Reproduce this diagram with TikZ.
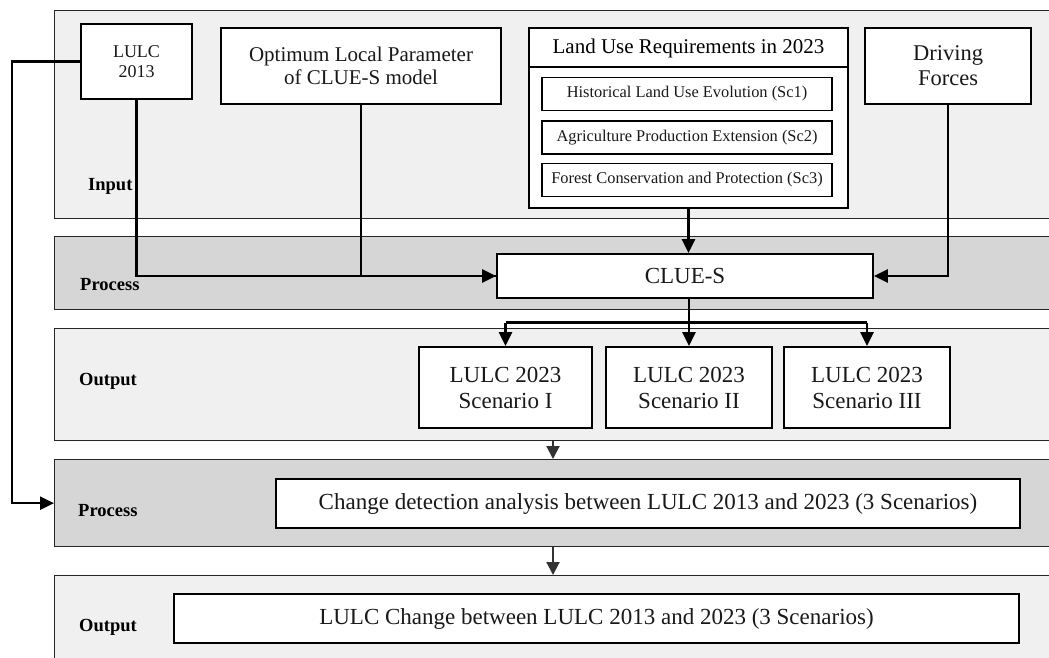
\documentclass[tikz,border=0pt]{standalone}
\usepackage{fontspec}
\setmainfont{Liberation Serif}
\usetikzlibrary{arrows.meta,calc}
\begin{document}
\begin{tikzpicture}[x=1pt,y=1pt,
  panel/.style={draw=black!85,line width=1.3pt,anchor=north west,inner sep=0pt},
  lightpanel/.style={panel,fill=black!6},
  darkpanel/.style={panel,fill=black!16},
  box/.style={draw=black,line width=1.8pt,fill=white,inner sep=0pt,align=center,text=black!90},
  tag/.style={anchor=west,inner sep=0pt,font=\bfseries\fontsize{18.5}{20}\selectfont},
  conn/.style={draw=black,line width=2.5pt},
  arr/.style={conn,-{Triangle[length=14pt,width=13pt]}},
  arrsoft/.style={draw=black!80,line width=2pt,-{Triangle[length=13pt,width=13pt]}},
  big/.style={font=\fontsize{23}{26}\selectfont},
  mid/.style={font=\fontsize{21}{23}\selectfont},
  small/.style={font=\fontsize{16.4}{18}\selectfont}
]
\clip (0,0) rectangle (1049,-657);
\fill[white] (0,0) rectangle (1049,-657);

% horizontal bands
\node[lightpanel,minimum width=1020pt,minimum height=208pt] (inpanel) at (54,-10) {};
\node[darkpanel,minimum width=1020pt,minimum height=73pt] (proc1) at (54,-236) {};
\node[lightpanel,minimum width=1020pt,minimum height=112pt] (out1) at (54,-328) {};
\node[darkpanel,minimum width=1020pt,minimum height=87pt] (proc2) at (54,-459) {};
\node[lightpanel,minimum width=1020pt,minimum height=110pt] (out2) at (54,-575) {};

% band labels
\node[tag] (tin) at (88,-186) {Input};
\node[tag] (tp1) at (80,-285) {Process};
\node[tag] (to1) at (79,-381) {Output};
\node[tag] (tp2) at (78,-511) {Process};
\node[tag] (to2) at (79,-627) {Output};

% inputs
\node[box,minimum width=111pt,minimum height=75pt,font=\fontsize{18}{20}\selectfont] (lulc13) at (136.5,-61.5) {LULC\\2013};
\node[box,mid,minimum width=280pt,minimum height=76pt] (opt) at (361,-66) {Optimum Local Parameter\\of CLUE-S model};
\node[box,minimum width=319pt,minimum height=180pt] (lur) at (688.5,-118) {};
\draw[line width=1.8pt] (lur.north west) ++(0,-40) -- ++(319,0);
\node[mid,inner sep=0pt] (lurt) at (688.5,-48) {Land Use Requirements in 2023};
\node[box,small,line width=1.6pt,minimum width=290pt,minimum height=33pt] (sc1) at (687,-94) {Historical Land Use Evolution (Sc1)};
\node[box,small,line width=1.6pt,minimum width=290pt,minimum height=33pt] (sc2) at (687,-137.5) {Agriculture Production Extension (Sc2)};
\node[box,small,line width=1.6pt,minimum width=290pt,minimum height=33pt] (sc3) at (687,-180) {Forest Conservation and Protection (Sc3)};
\node[box,font=\fontsize{22.5}{25}\selectfont,minimum width=166pt,minimum height=76pt] (drive) at (948,-66) {Driving\\Forces};

% model
\node[box,big,minimum width=376pt,minimum height=44pt] (clue) at (685,-276) {CLUE-S};

% scenario outputs
\node[box,big,minimum width=173pt,minimum height=81pt] (s1) at (505.5,-387.5) {LULC 2023\\Scenario I};
\node[box,big,minimum width=166pt,minimum height=81pt] (s2) at (689,-387.5) {LULC 2023\\Scenario II};
\node[box,big,minimum width=166pt,minimum height=81pt] (s3) at (867,-387.5) {LULC 2023\\Scenario III};

% change analysis
\node[box,big,minimum width=744pt,minimum height=49pt] (chg) at (648,-503.5) {Change detection analysis between LULC 2013 and 2023 (3 Scenarios)};
\node[box,big,minimum width=845pt,minimum height=49pt] (res) at (596.5,-618.5) {LULC Change between LULC 2013 and 2023 (3 Scenarios)};

% connectors into CLUE-S
\draw[conn] (lulc13.south) |- (clue.west);
\draw[arr] (opt.south) |- (clue.west);
\draw[arr] (lur.south) -- (lur.south |- clue.north);
\draw[arr] (drive.south) |- (clue.east);

% CLUE-S to the three scenarios
\coordinate (split) at ($(s2.north |- clue.south)!0.5!(s2.north)$);
\draw[arr] (s2.north |- clue.south) -- (s2.north);
\draw[conn] (split -| s1.north) -- (split -| s3.north);
\draw[arr] (split -| s1.north) -- (s1.north);
\draw[arr] (split -| s3.north) -- (s3.north);

% LULC 2013 feedback to the change analysis band
\coordinate (fbk) at (12,-61.5);
\draw[arr] (lulc13.west) -- (fbk) |- (proc2.west);

% band to band
\coordinate (dn) at (553,0);
\draw[arrsoft] (out1.south -| dn) -- (proc2.north -| dn);
\draw[arrsoft] (proc2.south -| dn) -- (out2.north -| dn);
\end{tikzpicture}
\end{document}
